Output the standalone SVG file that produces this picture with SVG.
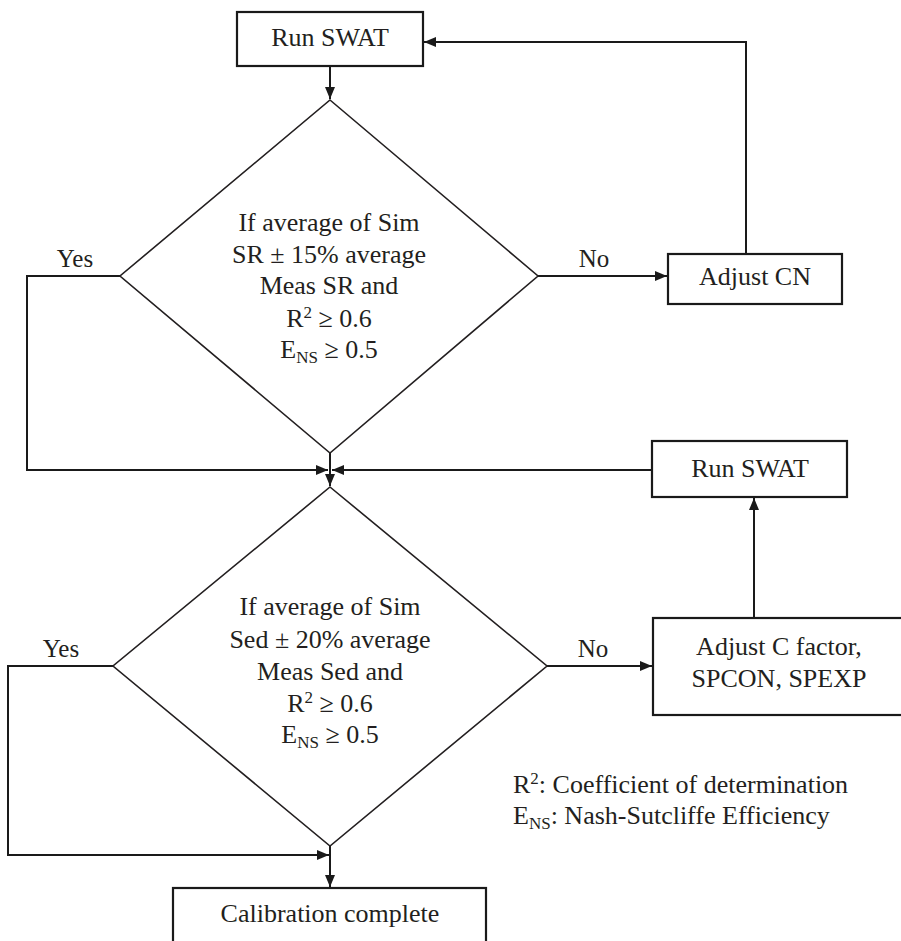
<svg xmlns="http://www.w3.org/2000/svg" width="901" height="941" viewBox="0 0 901 941">
<defs>
<marker id="ah" viewBox="0 0 12 10" refX="12" refY="5" markerWidth="12" markerHeight="10" markerUnits="userSpaceOnUse" orient="auto">
<path d="M0,0 L12,5 L0,10 z" fill="#1a1a1a"/>
</marker>
</defs>
<style>
text{font-family:'Liberation Serif','Times New Roman',serif;font-size:26px;fill:#231f20;text-anchor:middle}
.box{fill:#fff;stroke:#1a1a1a;stroke-width:2.2}
.dia{fill:none;stroke:#231f20;stroke-width:1.6}
.lbl{font-size:25px}
.leg{text-anchor:start}
.sub{font-size:17px}
.sup{font-size:17px}
#connectors path{fill:none;stroke:#1a1a1a;stroke-width:2}
</style>
<rect width="901" height="941" fill="#fff"/>
<g id="connectors">
<path d="M330,66 L330,99" marker-end="url(#ah)"/>
<path d="M538,276 L667,276" marker-end="url(#ah)"/>
<path d="M746,254 L746,42 L424,42" marker-end="url(#ah)"/>
<path d="M120,276 L27,276 L27,470 L328,470" marker-end="url(#ah)"/>
<path d="M652,470 L332,470" marker-end="url(#ah)"/>
<path d="M330,453 L330,486" marker-end="url(#ah)"/>
<path d="M547,666 L652,666" marker-end="url(#ah)"/>
<path d="M754,618 L754,498" marker-end="url(#ah)"/>
<path d="M113,666 L8,666 L8,855 L329,855" marker-end="url(#ah)"/>
<path d="M330,846 L330,887" marker-end="url(#ah)"/>
</g>
<g id="run1">
<rect class="box" x="237" y="12" width="186" height="54"/>
<text x="330" y="46">Run SWAT</text>
</g>
<g id="dec1">
<polygon class="dia" points="330,100 538,276 330,453 120,276"/>
<text x="329" y="231">If average of Sim</text>
<text x="329" y="263">SR ± 15% average</text>
<text x="329" y="294">Meas SR and</text>
<text x="329" y="327">R<tspan class="sup" dy="-9">2</tspan><tspan dy="9"> ≥ 0.6</tspan></text>
<text x="329" y="358">E<tspan class="sub" dy="5">NS</tspan><tspan dy="-5"> ≥ 0.5</tspan></text>
</g>
<g id="adjcn">
<rect class="box" x="668" y="254" width="174" height="50"/>
<text x="755" y="285">Adjust CN</text>
</g>
<g id="run2">
<rect class="box" x="652" y="441" width="195" height="56"/>
<text x="750" y="477">Run SWAT</text>
</g>
<g id="dec2">
<polygon class="dia" points="330,487 547,666 330,846 113,666"/>
<text x="330" y="615">If average of Sim</text>
<text x="330" y="648">Sed ± 20% average</text>
<text x="330" y="680">Meas Sed and</text>
<text x="330" y="712">R<tspan class="sup" dy="-9">2</tspan><tspan dy="9"> ≥ 0.6</tspan></text>
<text x="330" y="743">E<tspan class="sub" dy="5">NS</tspan><tspan dy="-5"> ≥ 0.5</tspan></text>
</g>
<g id="adjc">
<rect class="box" x="653" y="618" width="260" height="97"/>
<text x="779" y="655">Adjust C factor,</text>
<text x="779" y="687">SPCON, SPEXP</text>
</g>
<g id="calib">
<rect class="box" x="173" y="888" width="313" height="70"/>
<text x="330" y="922">Calibration complete</text>
</g>
<g id="labels">
<text class="lbl" x="75" y="267">Yes</text>
<text class="lbl" x="594" y="267">No</text>
<text class="lbl" x="61" y="657">Yes</text>
<text class="lbl" x="593" y="657">No</text>
</g>
<g id="legend">
<text class="leg" x="513" y="793">R<tspan class="sup" dy="-9">2</tspan><tspan dy="9">: Coefficient of determination</tspan></text>
<text class="leg" x="513" y="824">E<tspan class="sub" dy="5">NS</tspan><tspan dy="-5">: Nash-Sutcliffe Efficiency</tspan></text>
</g>
</svg>
